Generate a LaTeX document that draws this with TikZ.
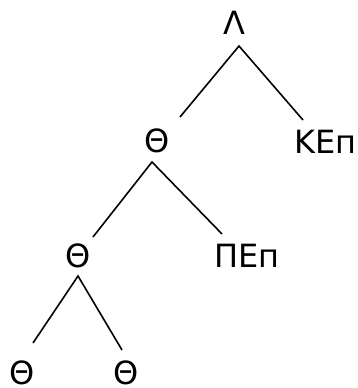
\documentclass[tikz,border=0pt]{standalone}
\usepackage{fontspec}
\setmainfont{DejaVu Sans}
\begin{document}
\begin{tikzpicture}[x=1pt,y=-1pt,
  lbl/.style={anchor=base,inner sep=0pt,font=\fontsize{32}{36}\selectfont},
  branch/.style={line width=1.6pt}]
\useasboundingbox (0,0) rectangle (358,388);
% labels
\node[lbl] (lam) at (234,34) {Λ};
\node[lbl] (th1) at (157,152) {Θ};
\node[lbl] (kep) at (325.5,153) {ΚΕп};
\node[lbl] (th2) at (78.5,267) {Θ};
\node[lbl] (pep) at (247,267) {ΠΕп};
\node[lbl] (th3) at (22.5,384) {Θ};
\node[lbl] (th4) at (126,384) {Θ};
% branch end points
\coordinate (lamB) at (239,46);
\coordinate (th1T) at (180,117);
\coordinate (kepT) at (303,120);
\coordinate (th1B) at (152,162);
\coordinate (th2T) at (93,237);
\coordinate (pepT) at (222,234);
\coordinate (th2B) at (78,276);
\coordinate (th3T) at (33,343);
\coordinate (th4T) at (122,350);
% branches
\draw[branch] (th1T) -- (lamB) -- (kepT);
\draw[branch] (th2T) -- (th1B) -- (pepT);
\draw[branch] (th3T) -- (th2B) -- (th4T);
\end{tikzpicture}
\end{document}
